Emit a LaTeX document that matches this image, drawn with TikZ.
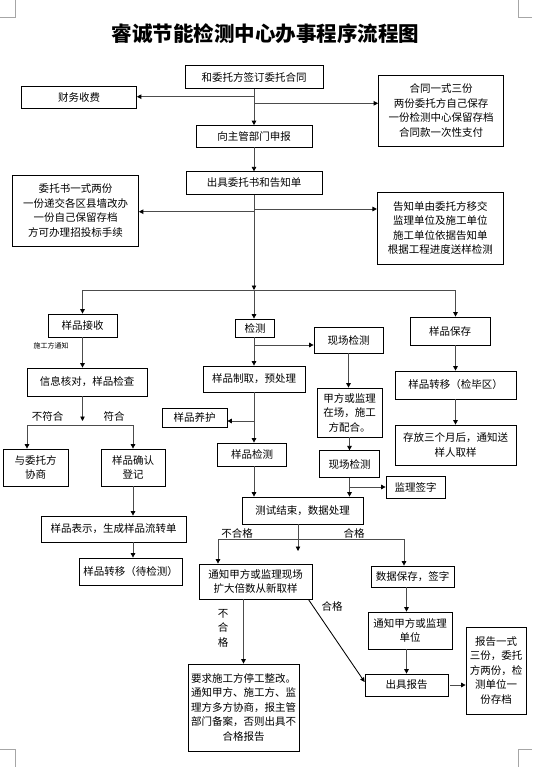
\documentclass[tikz,border=0pt]{standalone}
\usepackage{fontspec}
\setmainfont{Noto Sans CJK SC}
\usetikzlibrary{positioning,arrows.meta}

\begin{document}
\begin{tikzpicture}[
  x=1pt, y=-1pt,
  font=\fontsize{10.5}{14.5}\selectfont,
  box/.style={draw, line width=0.75pt, align=center, inner sep=0pt},
  dep/.style={-{Triangle[length=4.5pt,width=4.5pt,color=black]}, line width=0.85pt, black!70},
  wire/.style={line width=0.85pt, black!70},
  tag/.style={inner sep=0pt, align=center},
  crop/.style={gray!70, line width=0.8pt},
]
  \useasboundingbox (0,0) rectangle (532,767);

  % corner marks
  \draw[crop] (0,17) -- (15,17) -- (15,0);
  \draw[crop] (532,17) -- (518,17) -- (518,0);
  \draw[crop] (0,749) -- (15,749) -- (15,767);
  \draw[crop] (532,749) -- (518,749) -- (518,767);

  \node[font=\fontsize{20.5}{24}\selectfont\bfseries] (title) at (265.5,33.5)
    {睿诚节能检测中心办事程序流程图};

  % Contract and notice
  \node[box, minimum width=138, minimum height=23] (hetong) at (254,77) {和委托方签订委托合同};
  \node[box, minimum width=115, minimum height=22] (caiwu) at (79,97.3) {财务收费};
  \node[box, minimum width=125, minimum height=71] (sanfen) at (441,110.7)
    {合同一式三份\\两份委托方自己保存\\一份检测中心保留存档\\合同款一次性支付};
  \node[box, minimum width=116, minimum height=21.5] (shenbao) at (254,136.3) {向主管部门申报};
  \node[box, minimum width=136, minimum height=22.5] (chuju) at (254,183) {出具委托书和告知单};
  \node[box, minimum width=126, minimum height=71] (weituo) at (75.5,210.5)
    {委托书一式两份\\一份递交各区县墙改办\\一份自己保留存档\\方可办理招投标手续};
  \node[box, minimum width=126, minimum height=72] (gaozhi) at (440.3,228)
    {告知单由委托方移交\\监理单位及施工单位\\施工单位依据告知单\\根据工程进度送样检测};

  \draw[dep] (hetong) -- (shenbao);
  \coordinate (t1) at (254,96.7);
  \coordinate (t2) at (254,103.3);
  \draw[dep] (t1) -- (t1 -| caiwu.east);
  \draw[dep] (t2) -- (t2 -| sanfen.west);
  \draw[dep] (shenbao) -- (chuju);
  \coordinate (t3) at (254,290);
  \draw[dep] (chuju) -- (t3);
  \coordinate (t4) at (254,211.7);
  \coordinate (t5) at (254,209);
  \draw[dep] (t4) -- (t4 -| weituo.east);
  \draw[dep] (t5) -- (t5 -| gaozhi.west);

  % Sample receiving
  \node[box, minimum width=69, minimum height=23] (jieshou) at (82.5,325.5) {样品接收};
  \node[tag, font=\fontsize{7}{8}\selectfont] (tongzhi) at (51,346) {施工方通知};
  \node[box, minimum width=120, minimum height=28] (hedui) at (87,382) {信息核对，样品检查};
  \node[box, minimum width=65, minimum height=37] (xieshang) at (35.5,467.5) {与委托方\\协商};
  \node[box, minimum width=64, minimum height=37] (queren) at (133,467.5) {样品确认\\登记};
  \node[box, minimum width=145, minimum height=26] (biaoshi) at (113.5,529) {样品表示，生成样品流转单};
  \node[box, minimum width=103, minimum height=27] (daijian) at (130.5,571.5) {样品转移（待检测）};

  % Testing
  \node[box, minimum width=39, minimum height=18] (jiance) at (255,328) {检测};
  \node[box, minimum width=102, minimum height=26] (zhiqu) at (254,379) {样品制取，预处理};
  \node[box, minimum width=65, minimum height=19] (yanghu) at (194.5,417.5) {样品养护};
  \node[box, minimum width=69, minimum height=23] (jianceyp) at (252,454.5) {样品检测};
  \node[box, minimum width=69, minimum height=26] (xianchang) at (348.5,340) {现场检测};
  \node[box, minimum width=65, minimum height=49] (jiafang) at (349.5,412.5)
    {甲方或监理\\在场，施工\\方配合。};
  \node[box, minimum width=60, minimum height=27, below=13pt of jiafang] (xianchang2) {现场检测};
  \node[box, minimum width=59, minimum height=22] (jianli) at (415.5,487) {监理签字};
  \node[box, minimum width=121, minimum height=27] (ceshi) at (302.5,510.5) {测试结束，数据处理};

  % Results
  \node[box, minimum width=113, minimum height=35] (kuoda) at (255.5,581.5)
    {通知甲方或监理现场\\扩大倍数从新取样};
  \node[box, minimum width=111, minimum height=87] (yaoqiu) at (243.5,707.5)
    {要求施工方停工整改。\\通知甲方、施工方、监\\理方多方协商，报主管\\部门备案，否则出具不\\合格报告};
  \node[box, minimum width=83, minimum height=21] (baocun) at (412.5,576.5) {数据保存，签字};
  \node[box, minimum width=84, minimum height=37] (tongzhi2) at (410,630.5) {通知甲方或监理\\单位};
  \node[box, minimum width=83, minimum height=22] (baogao) at (406.5,685) {出具报告};
  \node[box, minimum width=60, minimum height=87] (cundang) at (496,670.5)
    {报告一式\\三份，委托\\方两份，检\\测单位一\\份存档};

  % Sample storage
  \node[box, minimum width=80, minimum height=28] (baocunyp) at (450,331) {样品保存};
  \node[box, minimum width=121, minimum height=28] (jianbi) at (455.5,385) {样品转移（检毕区）};
  \node[box, minimum width=121, minimum height=40] (cunfang) at (455.5,445)
    {存放三个月后，通知送\\样人取样};

  % three branches
  \draw[wire] (jieshou.north |- t3) -- (jianbi.north |- t3);
  \draw[dep] (jieshou.north |- t3) -- (jieshou);
  \draw[dep] (t3) -- (t3 |- jiance.north);
  \draw[dep] (jianbi.north |- t3) -- (jianbi.north |- baocunyp.north);

  % left column
  \draw[dep] (jieshou) -- (jieshou.south |- hedui.north);
  \coordinate (h1) at (82.5,421);
  \draw[dep] (jieshou.south |- hedui.south) -- (h1);
  \coordinate (f1) at (27,425);
  \coordinate (f2) at (133,425);
  \draw[wire] (f1) -- (f2);
  \draw[dep] (f1) -- (f1 |- xieshang.north);
  \draw[dep] (f2) -- (queren);
  \node[tag] (bfh) at (47.5,416) {不符合};
  \node[tag] (fh) at (114,416) {符合};
  \draw[dep] (queren) -- (queren |- biaoshi.north);
  \draw[dep] (queren |- biaoshi.south) -- (queren |- daijian.north);

  % middle column
  \coordinate (m1) at (254,345);
  \coordinate (m2) at (254,421);
  \draw[dep] (jiance.south -| m1) -- (m1 |- zhiqu.north);
  \draw[dep] (m1) -- (m1 -| xianchang.west);
  \draw[dep] (zhiqu.south -| m2) -- (m2 |- jianceyp.north);
  \draw[dep] (m2) -- (m2 -| yanghu.east);
  \draw[dep] (jianceyp.south -| m2) -- (m2 |- ceshi.north);
  \draw[dep] (xianchang) -- (xianchang |- jiafang.north);
  \draw[dep] (jiafang) -- (xianchang2);
  \draw[dep] (xianchang2) -- (xianchang2 |- ceshi.north);
  \draw[dep] (xianchang2 |- jianli.west) -- (jianli);

  % pass / fail
  \coordinate (c1) at (298,551);
  \draw[dep] (ceshi.south -| c1) -- (c1);
  \coordinate (g1) at (218,539);
  \coordinate (g2) at (404,539);
  \draw[wire] (g1) -- (g2);
  \draw[dep] (g1) -- (g1 |- kuoda.north);
  \draw[dep] (g2) -- (g2 |- baocun.north);
  \node[tag] (bhg) at (237,533) {不合格};
  \node[tag] (hg) at (354,533) {合格};
  \draw[dep] (yaoqiu.north |- kuoda.south) -- (yaoqiu);
  \node[tag] (bhg2) at (223,628) {不\\合\\格};
  \draw[dep, black] ([xshift=-4pt]kuoda.south east) -- ([yshift=3pt]baogao.west);
  \node[tag] (hg2) at (332,606) {合格};
  \draw[dep] (baogao.north |- baocun.south) -- (baogao.north |- tongzhi2.north);
  \draw[dep] (baogao.north |- tongzhi2.south) -- (baogao);
  \draw[dep] ([xshift=2pt]baogao.east) -- (baogao.east -| cundang.west);

  % right column
  \draw[dep] (jianbi.north |- baocunyp.south) -- (jianbi);
  \draw[dep] (jianbi) -- (cunfang);
\end{tikzpicture}
\end{document}
